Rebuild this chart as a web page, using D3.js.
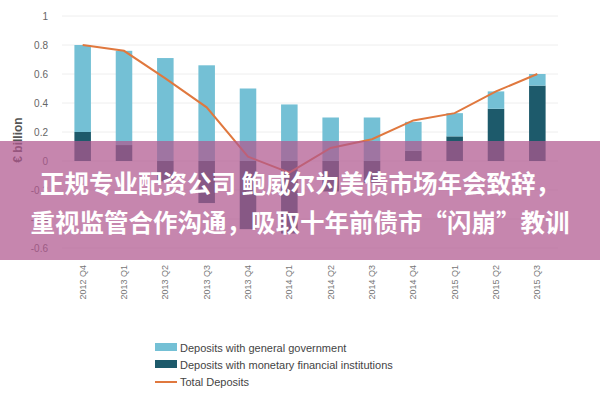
<!DOCTYPE html><html><head><meta charset="utf-8"><script src="https://cdn.jsdelivr.net/npm/d3@7"></script>
<style>body{margin:0;background:#fff}</style></head><body><svg width="600" height="400"></svg>
<script>
const categories=["2012 Q4","2013 Q1","2013 Q2","2013 Q3","2013 Q4","2014 Q1","2014 Q2","2014 Q3","2014 Q4","2015 Q1","2015 Q2","2015 Q3"];
const govt=[0.6,0.65,0.71,0.66,0.5,0.39,0.3,0.3,0.2,0.16,0.12,0.08];
const mfi=[0.2,0.11,-0.14,-0.29,-0.47,-0.5,-0.21,-0.15,0.07,0.17,0.36,0.52];
const total=[0.8,0.76,0.57,0.37,0.03,-0.08,0.09,0.15,0.28,0.33,0.48,0.6];
const yTicks=[1,0.8,0.6,0.4,0.2,0,-0.2,-0.4,-0.6];
const svg=d3.select("svg");
const x=d3.scaleBand().domain(categories).range([62,558]).paddingInner(0.6).paddingOuter(0.3);
const y=d3.scaleLinear().domain([-0.6,1]).range([248,16]);
const g=svg.append("g");
g.selectAll(".gl").data(yTicks).join("line").attr("x1",62).attr("x2",558).attr("y1",d=>y(d)).attr("y2",d=>y(d)).attr("stroke","#eee");
g.selectAll(".yt").data(yTicks).join("text").attr("x",48).attr("y",d=>y(d)+4).attr("text-anchor","end").attr("font-family","Liberation Sans").attr("font-size",10).attr("fill","#666").text(d=>d===1?"1":d);
g.selectAll(".m").data(mfi).join("rect").attr("x",(d,i)=>x(categories[i])).attr("width",x.bandwidth()).attr("y",d=>y(Math.max(0,d))).attr("height",d=>Math.abs(y(d)-y(0))).attr("fill","#1d5a6b");
g.selectAll(".gv").data(govt).join("rect").attr("x",(d,i)=>x(categories[i])).attr("width",x.bandwidth()).attr("y",(d,i)=>y(d+Math.max(0,mfi[i]))).attr("height",d=>y(0)-y(d)).attr("fill","#74c0d5");
const line=d3.line().x((d,i)=>x(categories[i])+x.bandwidth()/2).y(d=>y(d));
g.append("path").datum(total).attr("d",line).attr("fill","none").attr("stroke","#e0783e").attr("stroke-width",2);
g.append("text").attr("transform","translate(22,140) rotate(-90)").attr("text-anchor","middle").attr("font-family","Liberation Sans").attr("font-weight","bold").attr("font-size",12).attr("fill","#555").text("€ billion");
g.selectAll(".xl").data(categories).join("text").attr("transform",d=>`translate(${x(d)+x.bandwidth()/2+3},265) rotate(-90)`).attr("text-anchor","end").attr("font-family","Liberation Sans").attr("font-size",9).attr("fill","#777").text(d=>d);
const legend=[["Deposits with general government","#74c0d5","rect"],["Deposits with monetary financial institutions","#1d5a6b","rect"],["Total Deposits","#e0783e","line"]];
legend.forEach((l,i)=>{const yy=348+i*17;
 if(l[2]==="rect")g.append("rect").attr("x",155).attr("y",yy-5).attr("width",22).attr("height",8).attr("fill",l[1]);
 else g.append("line").attr("x1",155).attr("x2",177).attr("y1",yy).attr("y2",yy).attr("stroke",l[1]).attr("stroke-width",2);
 g.append("text").attr("x",180).attr("y",yy+4).attr("font-family","Liberation Sans").attr("font-size",11).attr("fill","#444").text(l[0]);});
svg.append("rect").attr("x",0).attr("y",141).attr("width",600).attr("height",119).attr("fill","#b0588f").attr("opacity",0.72);
const lines=["正规专业配资公司 鲍威尔为美债市场年会致辞，","重视监管合作沟通，吸取十年前债市“闪崩”教训"];
svg.selectAll(".ov").data(lines).join("text").attr("x",300).attr("y",(d,i)=>193+i*39).attr("text-anchor","middle").attr("font-family","Noto Sans CJK SC").attr("font-weight","bold").attr("font-size",24.5).attr("fill","#fff").text(d=>d);
</script></body></html>
